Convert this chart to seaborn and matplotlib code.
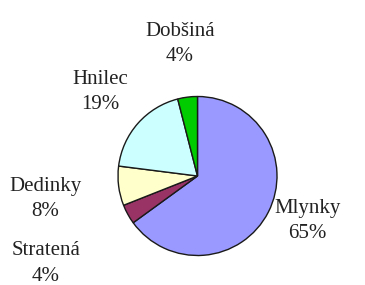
import matplotlib
matplotlib.use('Agg')
import matplotlib.pyplot as plt
import seaborn as sns

# data (share of total, %)
places = ['Mlynky', 'Stratená', 'Dedinky', 'Hnilec', 'Dobšiná']
shares = [65, 4, 8, 19, 4]
colors = ['#9999FF', '#993366', '#FFFFCC', '#CCFFFF', '#00CC00']

# label anchor points in pie units (radius = 1), Excel-like placement
label_pos = [(1.38, -0.57), (-1.91, -1.10), (-1.91, -0.29), (-1.22, 1.06), (-0.22, 1.66)]

sns.set_theme(style='white')
plt.rcParams['font.family'] = ['Liberation Serif', 'DejaVu Serif']

fig = plt.figure(figsize=(3.65, 2.85), dpi=100)
ax = fig.add_axes([0, 0, 1, 1])

ax.pie(shares, colors=colors, startangle=90, counterclock=False,
       wedgeprops={'edgecolor': '#1a1a1a', 'linewidth': 1.0})

total = sum(shares)
for name, val, (x, y) in zip(places, shares, label_pos):
    ax.text(x, y, f'{name}\n{round(100 * val / total)}%', ha='center', va='center',
            multialignment='center', linespacing=1.45, fontsize=15, color='#222222')

# pie centre at (197.5, 176) px, radius 79.5 px
r = 79.5
ax.set_xlim(-197.5 / r, (365 - 197.5) / r)
ax.set_ylim(-(285 - 176) / r, 176 / r)
ax.set_aspect('equal')
ax.axis('off')

fig.savefig('out.png', dpi=100)
